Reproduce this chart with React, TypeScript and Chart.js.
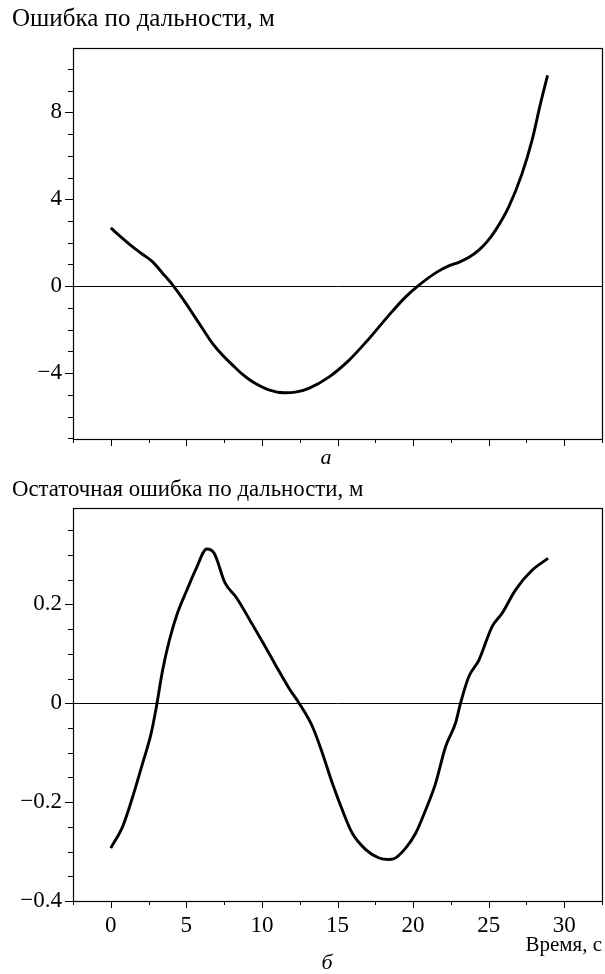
import React, { useEffect, useRef } from "react";
import { Chart, registerables } from "chart.js";

Chart.register(...registerables);

const FONT = "'Liberation Serif', 'Times New Roman', serif";

// ---- Chart а: range error ----
const titleA = "Ошибка по дальности, м";
const timeA = [0, 0.7, 1.45, 2.1, 2.77, 3.4, 4.1, 4.8, 5.42, 6.1, 6.74, 7.4, 8.06, 8.7, 9.38, 10.5, 11.5, 12.3, 13.1, 14.45, 15.77, 17.09, 18.41, 19.51, 20.39, 21.6, 22.4, 23.03, 23.7, 24.35, 24.9, 25.45, 26.33, 27.21, 27.87, 28.43, 28.9];
const errorA = [2.68, 2.25, 1.81, 1.47, 1.12, 0.62, 0.05, -0.62, -1.26, -1.98, -2.64, -3.18, -3.63, -4.05, -4.4, -4.78, -4.9, -4.86, -4.7, -4.17, -3.4, -2.41, -1.33, -0.49, 0.05, 0.66, 0.95, 1.1, 1.33, 1.66, 2.05, 2.57, 3.65, 5.18, 6.71, 8.4, 9.7];
const yLabelsA = [-4, 0, 4, 8];

// ---- Chart б: residual range error ----
const titleB = "Остаточная ошибка по дальности, м";
const timeB = [0, 0.79, 1.45, 2.11, 2.67, 3.0, 3.43, 3.88, 4.43, 4.98, 5.64, 6.35, 6.85, 7.55, 8.35, 9.3, 10.1, 11.0, 11.8, 12.46, 13.34, 14.0, 14.66, 15.32, 15.98, 16.87, 17.75, 18.4, 18.7, 19.51, 20.17, 20.83, 21.49, 22.15, 22.81, 23.14, 23.69, 24.35, 25.23, 25.89, 26.77, 27.87, 28.93];
const errorB = [-0.293, -0.249, -0.189, -0.121, -0.061, -0.01, 0.067, 0.128, 0.184, 0.225, 0.272, 0.312, 0.303, 0.244, 0.212, 0.163, 0.121, 0.072, 0.03, 0.0, -0.047, -0.101, -0.162, -0.216, -0.263, -0.296, -0.313, -0.316, -0.315, -0.293, -0.263, -0.216, -0.162, -0.088, -0.04, 0.0, 0.054, 0.087, 0.155, 0.182, 0.229, 0.269, 0.293];
const yLabelsB = [-0.4, -0.2, 0, 0.2];

// ---- shared time axis ----
const xLabels = [0, 5, 10, 15, 20, 25, 30];
const xAxisTitle = "Время, с";

const near = (a: number, b: number) => Math.abs(a - b) < 1e-6;
const fmt = (v: number) => {
  const s = String(Math.round(v * 1000) / 1000);
  return s.startsWith("-") ? "\u2212" + s.slice(1) : s;
};

const framePlugin = {
  id: "frame",
  beforeDatasetsDraw(chart: any, _args: any, opts: any) {
    const { ctx, chartArea: a } = chart;
    const xs = chart.scales.x;
    const ys = chart.scales.y;
    ctx.save();
    ctx.strokeStyle = "#000";
    ctx.lineWidth = 1;
    // zero line
    const y0 = Math.round(ys.getPixelForValue(0)) + 0.5;
    ctx.beginPath();
    ctx.moveTo(a.left, y0);
    ctx.lineTo(a.right, y0);
    ctx.stroke();
    // frame
    ctx.lineWidth = 1.2;
    ctx.strokeRect(Math.round(a.left) + 0.5, Math.round(a.top) + 0.5, Math.round(a.right - a.left), Math.round(a.bottom - a.top));
    ctx.lineWidth = 1;
    // y ticks
    ys.ticks.forEach((t: any) => {
      const y = Math.round(ys.getPixelForValue(t.value)) + 0.5;
      const major = opts.yMajor.some((m: number) => near(m, t.value));
      ctx.beginPath();
      ctx.moveTo(a.left - (major ? 8 : 5), y);
      ctx.lineTo(a.left, y);
      ctx.stroke();
    });
    // x ticks
    xs.ticks.forEach((t: any) => {
      const x = Math.round(xs.getPixelForValue(t.value)) + 0.5;
      const major = opts.xMajor.some((m: number) => near(m, t.value));
      ctx.beginPath();
      ctx.moveTo(x, a.bottom);
      ctx.lineTo(x, a.bottom + (major ? 7 : 4));
      ctx.stroke();
    });
    ctx.restore();
  },
};

const hiddenGrid = (len: number) => ({
  display: true,
  drawOnChartArea: false,
  drawTicks: true,
  tickLength: len,
  color: "rgba(0,0,0,0)",
});

function makeConfig(p: {
  title: string;
  titleSize: number;
  xs: number[];
  ys: number[];
  yMin: number;
  yMax: number;
  yStep: number;
  yLabels: number[];
  showX: boolean;
  titlePad: { top: number; bottom: number };
  xHeight: number;
}): any {
  return {
    type: "line",
    data: {
      datasets: [
        {
          data: p.xs.map((x, i) => ({ x, y: p.ys[i] })),
          borderColor: "#000",
          borderWidth: 2.9,
          pointRadius: 0,
          fill: false,
          cubicInterpolationMode: "monotone",
        },
      ],
    },
    options: {
      responsive: false,
      animation: false,
      events: [],
      layout: { padding: { left: 12, right: 3, top: 0, bottom: 0 } },
      plugins: {
        legend: { display: false },
        tooltip: { enabled: false },
        title: {
          display: true,
          text: p.title,
          align: "start",
          color: "#000",
          font: { family: FONT, size: p.titleSize, weight: "normal", lineHeight: 1 },
          padding: p.titlePad,
        },
        frame: { yMajor: p.yLabels, xMajor: xLabels },
      },
      scales: {
        x: {
          type: "linear",
          min: -2.5,
          max: 32.5,
          grid: hiddenGrid(11),
          border: { display: false },
          ticks: {
            display: p.showX,
            stepSize: 2.5,
            autoSkip: false,
            includeBounds: false,
            maxRotation: 0,
            padding: 0,
            color: "#000",
            font: { family: FONT, size: 23 },
            callback: (v: number) => (xLabels.some((m) => near(m, v)) ? fmt(v) : ""),
          },
          title: {
            display: p.showX,
            text: xAxisTitle,
            align: "end",
            color: "#000",
            font: { family: FONT, size: 21, lineHeight: 1 },
            padding: { top: 0, bottom: 18 },
          },
          afterFit: (s: any) => {
            s.height = p.xHeight;
          },
        },
        y: {
          type: "linear",
          min: p.yMin,
          max: p.yMax,
          grid: hiddenGrid(11),
          border: { display: false },
          ticks: {
            stepSize: p.yStep,
            autoSkip: false,
            includeBounds: false,
            padding: 0,
            color: "#000",
            font: { family: FONT, size: 23 },
            callback: (v: number) => (p.yLabels.some((m) => near(m, v)) ? fmt(v) : ""),
          },
          afterFit: (s: any) => {
            s.width = 61;
          },
        },
      },
    },
    plugins: [framePlugin],
  };
}

export default function App() {
  const refA = useRef<HTMLCanvasElement>(null);
  const refB = useRef<HTMLCanvasElement>(null);

  useEffect(() => {
    const a = new Chart(
      refA.current!,
      makeConfig({
        title: titleA,
        titleSize: 25,
        xs: timeA,
        ys: errorA,
        yMin: -7.03,
        yMax: 10.96,
        yStep: 1,
        yLabels: yLabelsA,
        showX: false,
        titlePad: { top: 7.3, bottom: 15.7 },
        xHeight: 16,
      })
    );
    const b = new Chart(
      refB.current!,
      makeConfig({
        title: titleB,
        titleSize: 22.8,
        xs: timeB,
        ys: errorB,
        yMin: -0.4,
        yMax: 0.395,
        yStep: 0.05,
        yLabels: yLabelsB,
        showX: true,
        titlePad: { top: 8.9, bottom: 6.3 },
        xHeight: 73,
      })
    );
    return () => {
      a.destroy();
      b.destroy();
    };
  }, []);

  const caption: React.CSSProperties = {
    position: "absolute",
    width: 40,
    textAlign: "center",
    fontFamily: FONT,
    fontStyle: "italic",
    fontSize: 22,
    lineHeight: "22px",
    color: "#000",
  };

  return (
    <div style={{ position: "absolute", left: 0, top: 0, width: 605, height: 974, background: "#fff" }}>
      <canvas ref={refA} width={605} height={455} style={{ position: "absolute", left: 0, top: 0, width: 605, height: 455 }} />
      <div style={{ ...caption, left: 306, top: 446 }}>а</div>
      <canvas ref={refB} width={605} height={504} style={{ position: "absolute", left: 0, top: 470, width: 605, height: 504 }} />
      <div style={{ ...caption, left: 307, top: 951 }}>б</div>
    </div>
  );
}
